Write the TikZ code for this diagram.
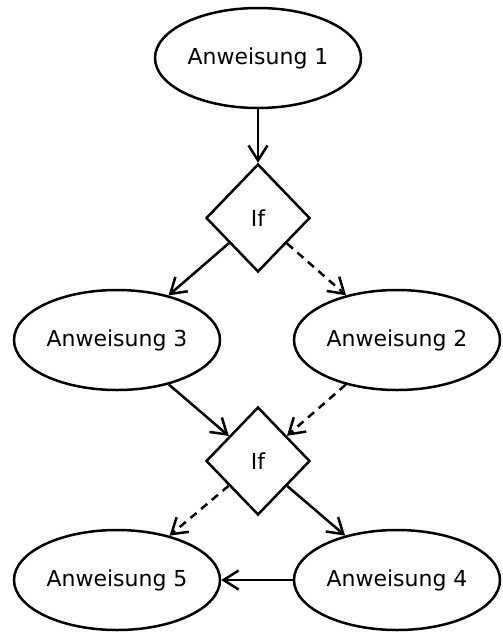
\documentclass[tikz,border=0pt]{standalone}
\usepackage{fontspec}
\setmainfont{DejaVu Sans}
\usetikzlibrary{shapes.geometric, arrows.meta}

\begin{document}
\begin{tikzpicture}[
  x=0.5pt, y=-0.5pt,
  anw/.style={ellipse, draw, line width=1.25pt, inner sep=0pt,
              minimum width=103pt, minimum height=50pt, font=\fontsize{11}{13}\selectfont},
  cond/.style={diamond, draw, line width=1.25pt, inner sep=0pt,
               minimum width=52pt, minimum height=54pt, font=\fontsize{11}{13}\selectfont},
  arr/.style={-{Straight Barb[length=7.5pt, width=9.5pt]}, line width=1.25pt},
  alt/.style={arr, dash pattern=on 4pt off 3pt}
]
  \useasboundingbox (0,0) rectangle (503,632);

  \node[anw]  (anw1) at (258,58)  {Anweisung 1};
  \node[cond] (if1)  at (258,218) {If};
  \node[anw]  (anw3) at (117,340) {Anweisung 3};
  \node[anw]  (anw2) at (397,340) {Anweisung 2};
  \node[cond] (if2)  at (258,461) {If};
  \node[anw]  (anw5) at (117,580) {Anweisung 5};
  \node[anw]  (anw4) at (397,580) {Anweisung 4};

  \draw[arr] (anw1) -- (if1);
  \draw[arr] (if1) -- (anw3);
  \draw[alt] (if1) -- (anw2);
  \draw[arr] (anw3) -- (if2);
  \draw[alt] (anw2) -- (if2);
  \draw[alt] (if2) -- (anw5);
  \draw[arr] (if2) -- (anw4);
  \draw[arr] (anw4) -- (anw5);
\end{tikzpicture}
\end{document}
